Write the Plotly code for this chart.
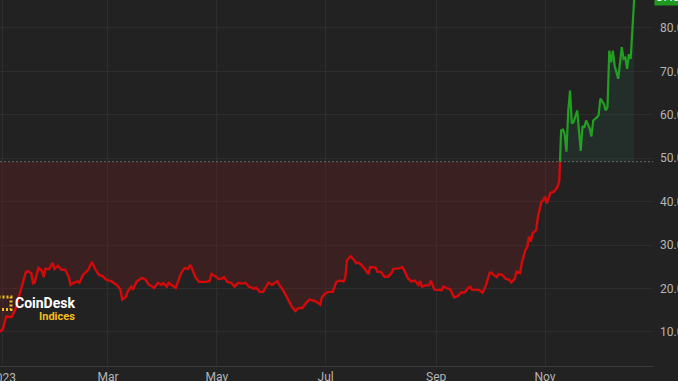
import plotly.graph_objects as go
import pandas as pd

dates = [
    "2022-12-30", "2023-01-01", "2023-01-03", "2023-01-06", "2023-01-08", "2023-01-10", "2023-01-12",
    "2023-01-14", "2023-01-15", "2023-01-17", "2023-01-18", "2023-01-19", "2023-01-21", "2023-01-23",
    "2023-01-24", "2023-01-25", "2023-01-27", "2023-01-29", "2023-01-30", "2023-01-31", "2023-02-01",
    "2023-02-03", "2023-02-05", "2023-02-07", "2023-02-08", "2023-02-10", "2023-02-12", "2023-02-13",
    "2023-02-15", "2023-02-18", "2023-02-20", "2023-02-22", "2023-02-24", "2023-02-26", "2023-02-28",
    "2023-03-03", "2023-03-04", "2023-03-06", "2023-03-08", "2023-03-09", "2023-03-11", "2023-03-12",
    "2023-03-14", "2023-03-15", "2023-03-17", "2023-03-19", "2023-03-20", "2023-03-22", "2023-03-24",
    "2023-03-26", "2023-03-27", "2023-03-29", "2023-03-31", "2023-04-01", "2023-04-03", "2023-04-04",
    "2023-04-08", "2023-04-11", "2023-04-13", "2023-04-15", "2023-04-16", "2023-04-17", "2023-04-19",
    "2023-04-21", "2023-04-23", "2023-04-25", "2023-04-27", "2023-04-28", "2023-05-01", "2023-05-02",
    "2023-05-04", "2023-05-05", "2023-05-07", "2023-05-09", "2023-05-11", "2023-05-13", "2023-05-15",
    "2023-05-17", "2023-05-19", "2023-05-22", "2023-05-23", "2023-05-25", "2023-05-27", "2023-05-29",
    "2023-05-30", "2023-06-01", "2023-06-03", "2023-06-04", "2023-06-05", "2023-06-07", "2023-06-10",
    "2023-06-12", "2023-06-14", "2023-06-16", "2023-06-18", "2023-06-20", "2023-06-22", "2023-06-25",
    "2023-06-27", "2023-06-28", "2023-06-29", "2023-07-01", "2023-07-03", "2023-07-05", "2023-07-07",
    "2023-07-09", "2023-07-11", "2023-07-12", "2023-07-13", "2023-07-15", "2023-07-17", "2023-07-18",
    "2023-07-19", "2023-07-21", "2023-07-23", "2023-07-25", "2023-07-26", "2023-07-27", "2023-07-29",
    "2023-07-30", "2023-08-01", "2023-08-03", "2023-08-05", "2023-08-07", "2023-08-08", "2023-08-11",
    "2023-08-13", "2023-08-14", "2023-08-16", "2023-08-18", "2023-08-20", "2023-08-22", "2023-08-23",
    "2023-08-24", "2023-08-26", "2023-08-28", "2023-08-29", "2023-08-31", "2023-09-02", "2023-09-04",
    "2023-09-05", "2023-09-07", "2023-09-09", "2023-09-11", "2023-09-13", "2023-09-15", "2023-09-17",
    "2023-09-19", "2023-09-20", "2023-09-21", "2023-09-23", "2023-09-25", "2023-09-27", "2023-09-28",
    "2023-09-29", "2023-10-01", "2023-10-02", "2023-10-03", "2023-10-05", "2023-10-06", "2023-10-08",
    "2023-10-10", "2023-10-12", "2023-10-13", "2023-10-15", "2023-10-16", "2023-10-18", "2023-10-19",
    "2023-10-21", "2023-10-22", "2023-10-23", "2023-10-24", "2023-10-25", "2023-10-27", "2023-10-28",
    "2023-10-30", "2023-10-31", "2023-11-01", "2023-11-02", "2023-11-04", "2023-11-06", "2023-11-08",
    "2023-11-09", "2023-11-10", "2023-11-11", "2023-11-12", "2023-11-13", "2023-11-14", "2023-11-15",
    "2023-11-16", "2023-11-17", "2023-11-19", "2023-11-20", "2023-11-21", "2023-11-22", "2023-11-23",
    "2023-11-24", "2023-11-26", "2023-11-27", "2023-11-28", "2023-11-30", "2023-12-01", "2023-12-02",
    "2023-12-04", "2023-12-05", "2023-12-06", "2023-12-07", "2023-12-08", "2023-12-09", "2023-12-10",
    "2023-12-12", "2023-12-13", "2023-12-14", "2023-12-15", "2023-12-16", "2023-12-17", "2023-12-18",
    "2023-12-19", "2023-12-20", "2023-12-21",
]
values = [
    10.0, 10.5, 13.5, 13.4, 15.0, 18.0, 21.2,
    23.8, 24.0, 23.5, 21.2, 21.4, 24.7, 24.0,
    22.6, 24.5, 24.4, 25.9, 24.5, 24.8, 25.2,
    24.3, 24.3, 22.7, 20.8, 21.3, 21.6, 21.3,
    23.1, 24.3, 26.1, 24.3, 23.1, 22.8, 22.0,
    21.6, 21.3, 20.8, 19.7, 17.4, 18.0, 19.2,
    20.4, 19.7, 21.5, 22.2, 22.4, 22.0, 20.8,
    20.4, 20.1, 21.3, 20.8, 21.2, 20.4, 21.3,
    20.1, 23.5, 24.7, 24.5, 25.4, 24.7, 22.6,
    21.5, 21.5, 21.5, 21.7, 23.3, 22.6, 22.1,
    22.3, 22.6, 21.5, 21.3, 20.4, 21.3, 21.1,
    21.3, 20.4, 19.9, 20.2, 19.2, 19.2, 20.8,
    21.3, 20.8, 21.4, 21.7, 20.8, 19.7, 17.4,
    15.8, 14.8, 15.5, 15.5, 16.6, 17.4, 17.1,
    16.6, 16.3, 18.0, 18.9, 19.2, 19.2, 21.5,
    21.8, 21.6, 22.4, 26.5, 27.4, 26.5, 25.8,
    26.0, 25.4, 24.5, 23.3, 24.9, 24.9, 24.8,
    23.8, 23.8, 22.7, 22.7, 23.6, 24.5, 24.6,
    24.9, 24.2, 22.4, 21.6, 21.8, 20.8, 21.7,
    20.4, 20.7, 20.7, 21.8, 19.7, 19.6, 19.6,
    20.4, 20.0, 19.7, 17.9, 18.2, 19.0, 19.1,
    20.1, 20.4, 19.7, 19.7, 19.6, 19.0, 20.1,
    20.8, 23.6, 23.6, 23.1, 22.6, 23.3, 23.1,
    22.2, 22.0, 21.4, 22.2, 23.9, 23.6, 25.9,
    28.9, 29.5, 31.9, 30.8, 32.7, 33.4, 36.5,
    40.0, 40.3, 41.1, 39.6, 42.0, 42.3, 43.4,
    44.9, 56.4, 56.6, 55.5, 51.5, 61.0, 65.6,
    58.0, 58.3, 61.0, 56.4, 51.7, 57.4, 57.0,
    58.7, 56.9, 55.0, 58.7, 59.4, 59.9, 63.7,
    62.5, 61.0, 61.8, 74.8, 72.1, 74.8, 71.3,
    68.3, 72.1, 75.6, 72.9, 73.2, 70.6, 74.0,
    72.9, 80.6, 87.06,
]
baseline = 49.2
x_tick_vals = ["2023-01-01", "2023-03-01", "2023-05-01", "2023-07-01", "2023-09-01", "2023-11-01"]
x_tick_text = ["2023", "Mar", "May", "Jul", "Sep", "Nov"]
y_tick_vals = [10, 20, 30, 40, 50, 60, 70, 80]
last_label = "87.06"

Y_MIN, Y_MAX = 2.12, 86.45
X_RANGE = ["2022-12-30 11:45", "2023-12-31 12:00"]

# split series at the crossing of the baseline
ts = pd.to_datetime(pd.Series(dates))
vs = pd.Series(values)
idx = int((vs >= baseline).idxmax())
t0, t1 = ts[idx - 1], ts[idx]
v0, v1 = vs[idx - 1], vs[idx]
frac = (baseline - v0) / (v1 - v0)
tc = t0 + (t1 - t0) * frac
red_x = list(ts[:idx]) + [tc]
red_y = list(vs[:idx]) + [baseline]
green_x = [tc] + list(ts[idx:])
green_y = [baseline] + list(vs[idx:])

BG = "#222222"
fig = go.Figure()
fig.add_trace(go.Scatter(x=red_x, y=[baseline] * len(red_x), mode="lines",
                         line=dict(width=0), hoverinfo="skip", showlegend=False))
fig.add_trace(go.Scatter(x=red_x, y=red_y, mode="lines", fill="tonexty",
                         fillcolor="rgba(125,30,35,0.27)",
                         line=dict(color="#d40a0a", width=2.4), showlegend=False))
fig.add_trace(go.Scatter(x=green_x, y=[baseline] * len(green_x), mode="lines",
                         line=dict(width=0), hoverinfo="skip", showlegend=False))
fig.add_trace(go.Scatter(x=green_x, y=green_y, mode="lines", fill="tonexty",
                         fillcolor="rgba(40,120,100,0.14)",
                         line=dict(color="#22a022", width=2.2), showlegend=False))

fig.add_shape(type="line", xref="paper", yref="y", x0=0, x1=1, y0=baseline, y1=baseline,
              line=dict(color="#6a6a6a", width=1, dash="2px,2px"))

W, H = 653, 366
def px(xp):
    return xp / W
def py(yp):
    return (H - yp) / H

# logo
fig.add_shape(type="rect", xref="paper", yref="paper",
              x0=px(-2), x1=px(11), y0=py(309.5), y1=py(297),
              line=dict(color="#f2bd1d", width=3, dash="2px,2px"))
fig.add_annotation(xref="paper", yref="paper", x=px(77), y=py(302.5), xanchor="right", yanchor="middle",
                   text="<b>CoinDesk</b>", showarrow=False,
                   font=dict(family="Roboto", size=14, color="#ffffff"))
fig.add_annotation(xref="paper", yref="paper", x=px(77), y=py(316), xanchor="right", yanchor="middle",
                   text="<b>Indices</b>", showarrow=False,
                   font=dict(family="Roboto", size=11, color="#f2bd1d"))

# first x tick label (partly beyond the left edge)
fig.add_annotation(xref="x", yref="paper", x=x_tick_vals[0], y=0, yanchor="top", yshift=-3,
                   text=x_tick_text[0], showarrow=False,
                   font=dict(family="Roboto", size=12, color="#b4b4b4"))

# last value label (above the top of the plot)
last_y_paper = (values[-1] - Y_MIN) / (Y_MAX - Y_MIN)
fig.add_annotation(xref="paper", yref="paper", x=1, y=last_y_paper, xanchor="left", yanchor="middle",
                   text=last_label, showarrow=False, bgcolor="#1f9a1f",
                   font=dict(family="Roboto", size=12, color="#ffffff"), xshift=1)

fig.update_layout(
    width=678, height=381,
    margin=dict(l=0, r=25, t=0, b=15),
    paper_bgcolor=BG, plot_bgcolor=BG,
    font=dict(family="Roboto", size=12, color="#b4b4b4"),
    showlegend=False,
)
fig.update_xaxes(
    type="date", range=X_RANGE,
    tickvals=x_tick_vals, ticktext=x_tick_text,
    showgrid=True, gridcolor="#2d2d2d", gridwidth=1,
    showline=True, linecolor="#3a3a3a", linewidth=1,
    ticks="", zeroline=False, automargin=False,
    tickfont=dict(size=12, color="#b4b4b4"),
)
fig.update_yaxes(
    range=[Y_MIN, Y_MAX], side="right",
    tickvals=y_tick_vals, tickformat=".2f",
    showgrid=True, gridcolor="#2d2d2d", gridwidth=1,
    showline=False, ticks="", zeroline=False, automargin=False,
    ticklabelstandoff=6,
    tickfont=dict(size=12, color="#b4b4b4"),
)
fig.write_html("out.html")
